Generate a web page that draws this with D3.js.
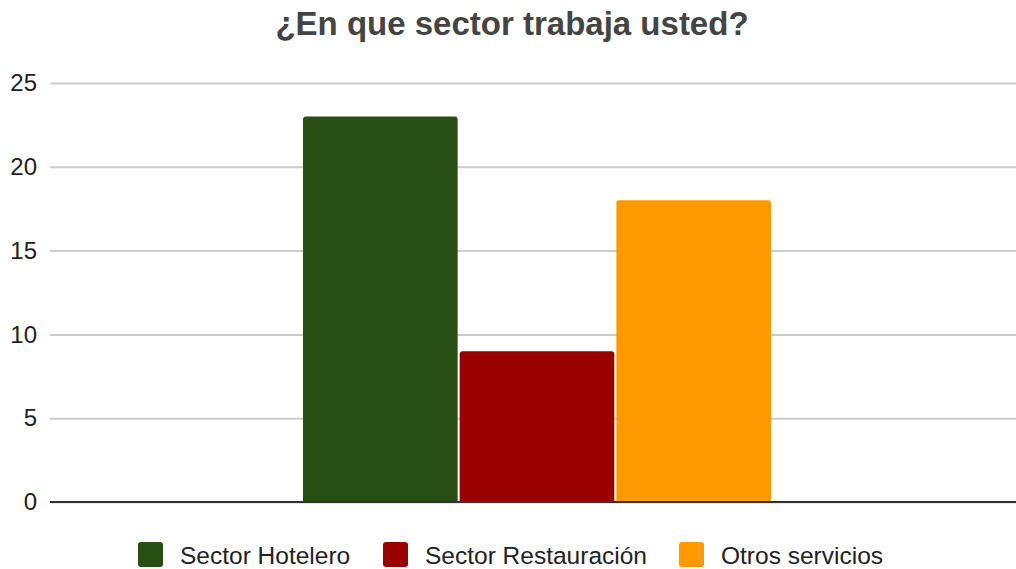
<!DOCTYPE html>
<html>
<head>
<meta charset="utf-8">
<script src="https://cdn.jsdelivr.net/npm/d3@7"></script>
<style>
  body { margin: 0; background: #fff; }
  svg { font-family: "Liberation Sans", Arial, sans-serif; }
</style>
</head>
<body>
<div id="chart"></div>
<script>
// Chart data
var title = "¿En que sector trabaja usted?";
var categories = [""];
var seriesNames = ["Sector Hotelero", "Sector Restauración", "Otros servicios"];
var seriesValues = [23, 9, 18];
var seriesColors = ["#274e13", "#990000", "#ff9900"];
var yTicks = [0, 5, 10, 15, 20, 25];

// SVG area
var svgWidth = 1016;
var svgHeight = 569;

var svg = d3.select("#chart")
    .append("svg")
    .attr("width", svgWidth)
    .attr("height", svgHeight);

var plotLeft = 50, plotRight = 1016, plotTop = 83, plotBottom = 502;

// Scales
var yScale = d3.scaleLinear()
    .domain([0, 25])
    .range([plotBottom, plotTop]);

var x0 = d3.scaleBand()
    .domain(categories)
    .range([54, 1020])
    .paddingInner(0)
    .paddingOuter(0.532);

var x1 = d3.scaleBand()
    .domain(seriesNames)
    .range([0, x0.bandwidth()])
    .paddingInner(0.013);

// Title
svg.append("text")
    .attr("x", 512)
    .attr("y", 35)
    .attr("text-anchor", "middle")
    .attr("font-size", "33px")
    .attr("font-weight", "bold")
    .attr("fill", "#444")
    .text(title);

// Gridlines + y labels
var yAxis = d3.axisLeft(yScale)
    .tickValues(yTicks)
    .tickSize(-(plotRight - plotLeft))
    .tickPadding(13);

var yAxisG = svg.append("g")
    .attr("transform", `translate(${plotLeft}, 0)`)
    .call(yAxis);
yAxisG.select(".domain").remove();
yAxisG.selectAll(".tick line")
    .attr("stroke", "#ccc")
    .attr("stroke-width", 2);
yAxisG.selectAll(".tick text")
    .attr("font-size", "24px")
    .attr("fill", "#222")
    .attr("font-family", "'Liberation Sans', Arial, sans-serif");

// Bars
var group = svg.append("g")
    .attr("transform", `translate(${x0(categories[0])}, 0)`);

group.selectAll("path")
    .data(seriesNames)
    .enter()
    .append("path")
    .attr("fill", (d, i) => seriesColors[i])
    .attr("d", function(d, i) {
        var x = x1(d), w = x1.bandwidth();
        var y = yScale(seriesValues[i]), b = yScale(0), r = 3;
        return `M${x},${b}V${y + r}Q${x},${y} ${x + r},${y}H${x + w - r}Q${x + w},${y} ${x + w},${y + r}V${b}Z`;
    });

// Baseline
svg.append("line")
    .attr("x1", plotLeft)
    .attr("x2", plotRight)
    .attr("y1", yScale(0))
    .attr("y2", yScale(0))
    .attr("stroke", "#333")
    .attr("stroke-width", 2);

// Legend
var legendX = [138, 383, 679];
var legend = svg.append("g");
seriesNames.forEach(function(name, i) {
    legend.append("rect")
        .attr("x", legendX[i])
        .attr("y", 542)
        .attr("width", 25)
        .attr("height", 25)
        .attr("rx", 3)
        .attr("fill", seriesColors[i]);
    legend.append("text")
        .attr("x", legendX[i] + 42)
        .attr("y", 564)
        .attr("font-size", "24.5px")
        .attr("fill", "#222")
        .text(name);
});
</script>
</body>
</html>
